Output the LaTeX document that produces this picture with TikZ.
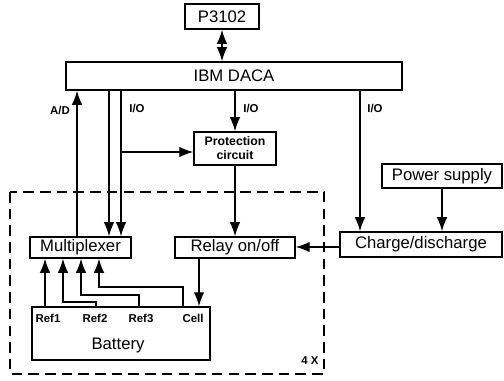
\documentclass[tikz,border=0pt]{standalone}
\usepackage{fontspec}
\setmainfont{Liberation Sans}
\usetikzlibrary{arrows.meta}
\begin{document}
\begin{tikzpicture}[
  x=0.02cm, y=0.02cm,
  box/.style={draw, rectangle, inner sep=0pt, font=\fontsize{9.5}{10}\selectfont},
  lbl/.style={font=\bfseries\fontsize{6.5}{7}\selectfont, inner sep=0pt},
  arr/.style={-{Latex[length=8pt,width=6pt]}},
  thick
]
  \useasboundingbox (0,0) rectangle (504,380);

  \node[box, minimum width=1.48cm, minimum height=0.5cm] (host) at (222,363.5) {P3102};
  \node[box, minimum width=6.72cm, minimum height=0.56cm] (daca) at (234,304) {IBM DACA};
  \node[box, minimum width=1.64cm, minimum height=0.66cm, align=center, font=\bfseries\fontsize{7}{8}\selectfont] (prot) at (235,231.5) {Protection\\circuit};
  \node[box, minimum width=2.4cm, minimum height=0.48cm] (power) at (442,204) {Power supply};
  \node[box, minimum width=2.02cm, minimum height=0.42cm] (mux) at (80.5,132.5) {Multiplexer};
  \node[box, minimum width=2.4cm, minimum height=0.42cm] (relay) at (235,132.5) {Relay on/off};
  \node[box, minimum width=3.24cm, minimum height=0.5cm] (charge) at (421,135.5) {Charge/discharge};
  \node[box, minimum width=3.56cm, minimum height=1.06cm] (bat) at (121,46.5) {};
  \node[box, draw=none] at (118,35) {Battery};

  % dashed frame, one per cell
  \draw[dash pattern=on 6pt off 3.5pt] (10,188) rectangle (324,6);
  \node[lbl] at (310,19) {4 X};

  % battery terminals
  \node[lbl] at (48,62) {Ref1};
  \node[lbl] at (95,62) {Ref2};
  \node[lbl] at (141,62) {Ref3};
  \node[lbl] at (193,62) {Cell};
  \coordinate (r1) at (45,73);
  \coordinate (r2) at (96,73);
  \coordinate (r3) at (139,73);
  \coordinate (r4) at (183,73);

  \draw[{Latex[length=8pt,width=6pt]}-{Latex[length=8pt,width=6pt]}] (host) -- (daca.north -| host);
  \draw[arr] (mux.north -| 77,0) -- (daca.south -| 77,0);
  \draw[arr] (daca.south -| 109,0) -- (mux.north -| 109,0);
  \draw[arr] (daca.south -| 121,0) -- (mux.north -| 121,0);
  \draw[arr] (121,228) -- (prot.west |- 121,228);
  \draw[arr] (daca.south -| prot) -- (prot);
  \draw[arr] (prot) -- (relay);
  \draw[arr] (daca.south -| 360,0) -- (charge.north -| 360,0);
  \draw[arr] (power) -- (power |- charge.north);
  \draw[arr] (charge.west |- 0,133) -- (relay.east |- 0,133);
  \draw[arr] (relay.south -| 199,0) -- (bat.north -| 199,0);

  \draw[arr] (r1) -- (mux.south -| r1);
  \draw[arr] (r2) |- (63,78) -- (mux.south -| 63,0);
  \draw[arr] (r3) |- (81,85) -- (mux.south -| 81,0);
  \draw[arr] (r4) |- (99,93) -- (mux.south -| 99,0);

  \node[lbl] at (60,270) {A/D};
  \node[lbl] at (137,272) {I/O};
  \node[lbl] at (251,272) {I/O};
  \node[lbl] at (375,272) {I/O};
\end{tikzpicture}
\end{document}
